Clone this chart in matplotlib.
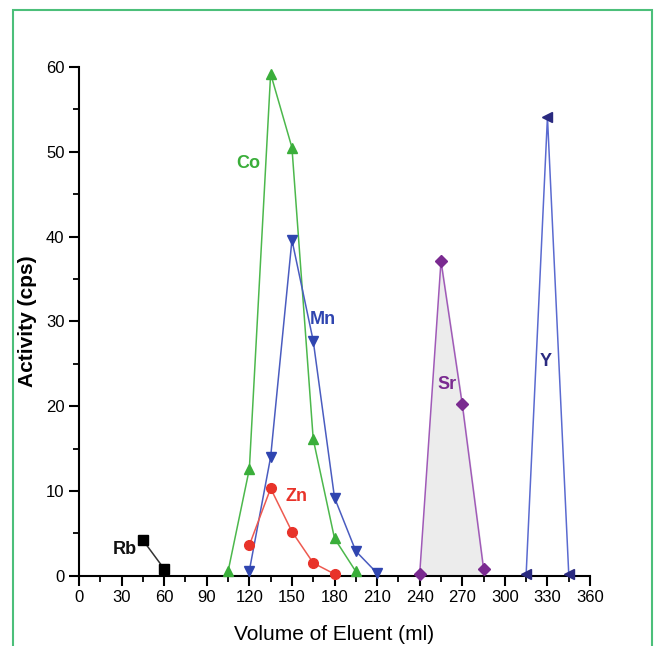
import matplotlib.pyplot as plt
from matplotlib.patches import Rectangle
from matplotlib.ticker import MultipleLocator

plt.rcParams["font.family"] = ["Liberation Sans", "DejaVu Sans"]

rb_x = [45, 60]
rb_y = [4.2, 0.8]
co_x = [105, 120, 135, 150, 165, 180, 195]
co_y = [0.5, 12.6, 59.2, 50.5, 16.1, 4.4, 0.5]
mn_x = [120, 135, 150, 165, 180, 195, 210]
mn_y = [0.6, 14.0, 39.6, 27.7, 9.2, 2.9, 0.3]
zn_x = [120, 135, 150, 165, 180]
zn_y = [3.6, 10.3, 5.2, 1.5, 0.2]
sr_x = [240, 255, 270, 285]
sr_y = [0.2, 37.1, 20.2, 0.8]
y_x = [315, 330, 345]
y_y = [0.2, 54.1, 0.2]

fig = plt.figure(figsize=(6.54, 6.46), dpi=100)
ax = fig.add_axes([0.1208, 0.1088, 0.7814, 0.7875])

ax.fill_between(sr_x, sr_y, color="#ececec", zorder=1)
kw = dict(lw=1.1, ms=7, clip_on=False, zorder=3)
ax.plot(rb_x, rb_y, color="#333333", marker="s", mfc="black", mec="black", **kw)
ax.plot(co_x, co_y, color="#4cb84c", marker="^", mfc="#3aae3a", mec="#3aae3a", **kw)
ax.plot(mn_x, mn_y, color="#4a5cc0", marker="v", mfc="#2f45b0", mec="#2f45b0", **kw)
ax.plot(zn_x, zn_y, color="#ee5a50", marker="o", mfc="#e8332a", mec="#e8332a", **kw)
ax.plot(sr_x, sr_y, color="#a05ab8", marker="D", ms=6, mfc="#7a2a90", mec="#7a2a90",
        lw=1.1, clip_on=False, zorder=3)
ax.plot(y_x, y_y, color="#5a6ad0", marker="<", mfc="#2a2a80", mec="#2a2a80", **kw)

# element labels next to each peak
lab = dict(fontsize=13, fontweight="bold", ha="center", va="center")
ax.text(32, 3.1, "Rb", color="#111111", **lab)
ax.text(119, 48.6, "Co", color="#3aae3a", **lab)
ax.text(172, 30.2, "Mn", color="#2f45b0", **lab)
ax.text(153, 9.4, "Zn", color="#e8332a", **lab)
ax.text(259, 22.5, "Sr", color="#7a2a90", **lab)
ax.text(329, 25.3, "Y", color="#2a2a80", **lab)

ax.set_xlim(0, 360)
ax.set_ylim(0, 60)
ax.xaxis.set_major_locator(MultipleLocator(30))
ax.xaxis.set_minor_locator(MultipleLocator(15))
ax.yaxis.set_major_locator(MultipleLocator(10))
ax.yaxis.set_minor_locator(MultipleLocator(5))
for s in ["top", "right"]:
    ax.spines[s].set_visible(False)
for s in ["left", "bottom"]:
    ax.spines[s].set_linewidth(1.5)
ax.tick_params(which="major", length=7, width=1.5, labelsize=12, direction="out")
ax.tick_params(which="minor", length=4, width=1.3, direction="out")
ax.set_xlabel("Volume of Eluent (ml)", fontsize=15, labelpad=14)
ax.set_ylabel("Activity (cps)", fontsize=15, fontweight="bold", labelpad=6)

fig.patches.append(Rectangle((13 / 654, -0.1), 639 / 654, 1.1 - 10 / 646,
                             transform=fig.transFigure, fill=False,
                             ec="#4cbf7a", lw=1.5))

fig.savefig("out.png", dpi=100)
